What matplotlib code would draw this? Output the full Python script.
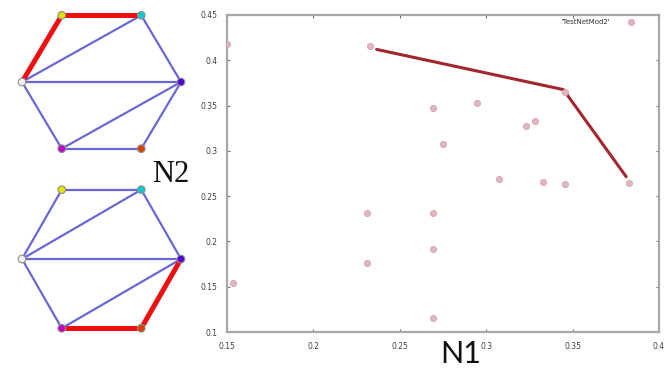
import matplotlib
matplotlib.use("Agg")
import matplotlib.pyplot as plt
import numpy as np

# scatter data (N1, N2)
n1 = [0.150, 0.233, 0.269, 0.2945, 0.275, 0.323, 0.3284, 0.3458, 0.3825,
      0.3076, 0.333, 0.3458, 0.1537, 0.2308, 0.2308, 0.269, 0.269, 0.269]
n2 = [0.418, 0.416, 0.347, 0.353, 0.3076, 0.327, 0.333, 0.365, 0.264,
      0.269, 0.266, 0.2634, 0.1537, 0.231, 0.1765, 0.231, 0.192, 0.1154]

# front line
front_n1 = [0.2366, 0.3447, 0.381]
front_n2 = [0.412, 0.3676, 0.2715]

xticks = [0.15, 0.2, 0.25, 0.3, 0.35, 0.4]
xtick_labels = ["0.15", "0.2", "0.25", "0.3", "0.35", "0.4"]
yticks = [0.1, 0.15, 0.2, 0.25, 0.3, 0.35, 0.4, 0.45]
ytick_labels = ["0.1", "0.15", "0.2", "0.25", "0.3", "0.35", "0.4", "0.45"]

# graph: 6 nodes on a hexagon
node_colors = ["#e2e000", "#10c8cc", "#5000d0", "#d84000", "#c000c8", "#f4f0f4"]
node_angles = [120, 60, 0, -60, -120, 180]
edges = [(0, 1), (0, 5), (1, 5), (1, 2), (5, 2), (5, 4), (4, 2), (4, 3), (3, 2)]
red_top = [(0, 1), (0, 5)]
red_bottom = [(4, 3), (3, 2)]

W, H = 672, 368
fig = plt.figure(figsize=(W / 100, H / 100), dpi=100)
fig.patch.set_facecolor("white")


def px_axes(x0, y0, x1, y1):
    return fig.add_axes([x0 / W, 1 - y1 / H, (x1 - x0) / W, (y1 - y0) / H])


# main scatter
ax = px_axes(227, 15, 659, 332)
ax.scatter(n1, n2, s=20, color="#e2b6be", edgecolors="#d8a4ae",
           linewidths=0.6, zorder=3, label="'TestNetMod2'")
ax.plot(front_n1, front_n2, color="#a3262e", lw=2.2, solid_capstyle="round", zorder=2)
ax.set_xlim(0.15, 0.4)
ax.set_ylim(0.1, 0.45)
ax.set_xticks(xticks)
ax.set_xticklabels(xtick_labels)
ax.set_yticks(yticks)
ax.set_yticklabels(ytick_labels)
ax.tick_params(direction="in", length=2.5, width=0.8, color="#707070",
               labelsize=5.5, labelcolor="#404040", top=True, right=True, pad=7)
for s in ax.spines.values():
    s.set_color("#a8a8a8")
    s.set_linewidth(1.6)
ax.legend(loc="upper right", frameon=False, markerfirst=False, fontsize=5,
          handlelength=0.8, handletextpad=2.6, borderaxespad=0.2,
          bbox_to_anchor=(0.952, 1.0), labelcolor="#303030")

# hexagon graphs
xs = np.cos(np.radians(node_angles))
ys = np.sin(np.radians(node_angles))


def draw_graph(gax, red_edges):
    for a, b in edges:
        if (a, b) in red_edges:
            gax.plot([xs[a], xs[b]], [ys[a], ys[b]], color="#ee1010", lw=3.6,
                     solid_capstyle="round", zorder=2, clip_on=False)
        else:
            gax.plot([xs[a], xs[b]], [ys[a], ys[b]], color="#5858d0", lw=1.6,
                     alpha=0.9, zorder=1, clip_on=False)
    gax.scatter(xs, ys, s=30, c=node_colors, edgecolors="#909090",
                linewidths=0.8, zorder=3, clip_on=False)
    gax.set_xlim(-1.0, 1.0)
    gax.set_ylim(-1.0, 1.0)
    gax.axis("off")


g1 = px_axes(22, 82 - 77, 181, 82 + 77)
draw_graph(g1, red_top)
g2 = px_axes(22, 259 - 80, 181, 259 + 80)
draw_graph(g2, red_bottom)

# axis labels placed as in the figure
fig.text(152 / W, 1 - 182 / H, "N2", family="Liberation Serif", fontsize=22,
         color="#101010", ha="left", va="baseline")
fig.text(440 / W, 1 - 363 / H, "N1", family="Lato", fontsize=22,
         color="#101010", ha="left", va="baseline")

fig.savefig("out.png", dpi=100)
